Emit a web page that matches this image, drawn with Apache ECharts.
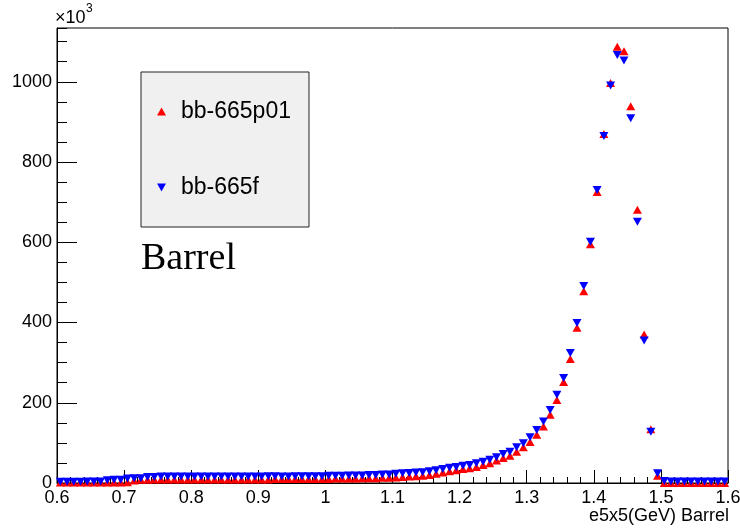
<!DOCTYPE html>
<html><head><meta charset="utf-8">
<script src="https://cdn.jsdelivr.net/npm/echarts@6/dist/echarts.min.js"></script>
<style>html,body{margin:0;padding:0;background:#fff}#c{width:740px;height:530px}</style>
</head><body><div id="c"></div>
<script>
const binCenters = [
0.605,0.615,0.625,0.635,0.645,0.655,0.665,0.675,0.685,0.695,
0.705,0.715,0.725,0.735,0.745,0.755,0.765,0.775,0.785,0.795,
0.805,0.815,0.825,0.835,0.845,0.855,0.865,0.875,0.885,0.895,
0.905,0.915,0.925,0.935,0.945,0.955,0.965,0.975,0.985,0.995,
1.005,1.015,1.025,1.035,1.045,1.055,1.065,1.075,1.085,1.095,
1.105,1.115,1.125,1.135,1.145,1.155,1.165,1.175,1.185,1.195,
1.205,1.215,1.225,1.235,1.245,1.255,1.265,1.275,1.285,1.295,
1.305,1.315,1.325,1.335,1.345,1.355,1.365,1.375,1.385,1.395,
1.405,1.415,1.425,1.435,1.445,1.455,1.465,1.475,1.485,1.495,
1.505,1.515,1.525,1.535,1.545,1.555,1.565,1.575,1.585,1.595
];
const seriesNames = ['bb-665p01', 'bb-665f'];
// values in units of 10^3
const redValues = [
1,1,1,1,1,1,1,1,1,1,
2,6,8,8,9,9,9,9,9,9,
9,9,9,9,9,9,9,9,9,9,
9,9,10,10,10,10,10,10,10,10,
10,11,11,11,11,12,12,12,13,13,
14,15,16,17,18,20,23,26,29,32,
35,37,40,45,49,56,62,68,78,89,
102,120,141,170,207,252,309,387,478,595,
725,870,997,1087,1076,939,681,370,134,18,
0,0,0,0,0,0,0,0,0,0
];
const blueValues = [
3,3,3,3,4,4,4,7,8,8,
11,12,12,15,15,16,16,16,16,16,
16,16,16,16,16,16,16,16,16,16,
16,17,17,16,16,17,17,17,17,17,
18,18,18,19,19,19,20,20,21,21,
23,24,25,26,27,29,32,35,38,40,
43,45,49,53,58,64,72,78,89,99,
114,132,153,182,220,262,324,399,491,601,
730,865,991,1067,1053,909,651,355,128,24,
5,4,4,4,4,4,4,4,4,4
];
const xTickLabels = ['0.6','0.7','0.8','0.9','1','1.1','1.2','1.3','1.4','1.5','1.6'];
const yTickLabels = ['0','200','400','600','800','1000'];
const xTitle = 'e5x5(GeV) Barrel';

const FONT = '"Liberation Sans", Arial, Helvetica, sans-serif';
const chart = echarts.init(document.getElementById('c'), null, {renderer: 'canvas'});

const option = {
  animation: false,
  backgroundColor: '#fff',
  grid: {left: 57, right: 12, top: 28, bottom: 47, show: true, borderColor: '#000', borderWidth: 1,
    backgroundColor: 'transparent', containLabel: false, outerBoundsMode: 'none'},
  legend: {
    orient: 'vertical', left: 141, top: 72,
    padding: [28, 18, 28, 16], itemGap: 53, itemWidth: 9, itemHeight: 8,
    backgroundColor: '#f0f0f0', borderColor: '#222', borderWidth: 1, borderRadius: 0,
    textStyle: {fontFamily: FONT, fontSize: 23, color: '#000', padding: [0, 0, 0, 10]},
    data: [
      {name: seriesNames[0], icon: 'triangle'},
      {name: seriesNames[1], icon: 'path://M0,0 L10,0 L5,9 Z'}
    ]
  },
  xAxis: {
    type: 'value', min: 0.6, max: 1.6, interval: 0.1,
    axisLine: {onZero: false, lineStyle: {color: '#000', width: 1}},
    axisTick: {inside: true, length: 13, lineStyle: {color: '#000'}},
    minorTick: {show: true, splitNumber: 5, length: 6, lineStyle: {color: '#000'}},
    splitLine: {show: false},
    axisLabel: {margin: 6, color: '#000', fontFamily: FONT, fontSize: 18,
      formatter: v => xTickLabels[Math.round((v - 0.6) * 10)] || ''}
  },
  yAxis: [{
    type: 'value', min: 0, max: 1134, interval: 200,
    axisLine: {show: true, onZero: false, lineStyle: {color: '#000', width: 1}},
    axisTick: {inside: true, length: 20, lineStyle: {color: '#000'}},
    splitLine: {show: false},
    axisLabel: {margin: 5, color: '#000', fontFamily: FONT, fontSize: 18, showMaxLabel: false,
      formatter: v => { const i = Math.round(v / 200); return (Math.abs(v - i * 200) < 1e-6 && yTickLabels[i]) ? yTickLabels[i] : ''; }}
  }, {
    type: 'value', min: 0, max: 1134, interval: 50, position: 'left',
    axisLine: {show: false},
    axisTick: {inside: true, length: 10, lineStyle: {color: '#000'}},
    axisLabel: {show: false},
    splitLine: {show: false}
  }],
  graphic: [
    {type: 'text', left: 55, top: 9, style: {text: '\u00d710', font: '18px ' + FONT, fill: '#000'}, silent: true},
    {type: 'text', left: 86, top: 3, style: {text: '3', font: '12px ' + FONT, fill: '#000'}, silent: true},
    {type: 'text', left: 141, top: 240, style: {text: 'Barrel', font: '38px "Liberation Serif", "Times New Roman", serif', fill: '#000'}, silent: true},
    {type: 'text', right: 11, top: 507, style: {text: xTitle, font: '18px ' + FONT, fill: '#000'}, silent: true}
  ],
  series: [{
    name: seriesNames[0], type: 'scatter', yAxisIndex: 0, clip: false,
    symbol: 'triangle', symbolSize: [9, 8],
    itemStyle: {color: '#ff0000', opacity: 1},
    data: binCenters.map((x, i) => [x, redValues[i]]), z: 2
  }, {
    name: seriesNames[1], type: 'scatter', yAxisIndex: 0, clip: false,
    symbol: 'triangle', symbolRotate: 180, symbolSize: [9, 8],
    itemStyle: {color: '#0000ff', opacity: 1},
    data: binCenters.map((x, i) => [x, blueValues[i]]), z: 3
  }]
};
chart.setOption(option);
</script>
</body></html>
